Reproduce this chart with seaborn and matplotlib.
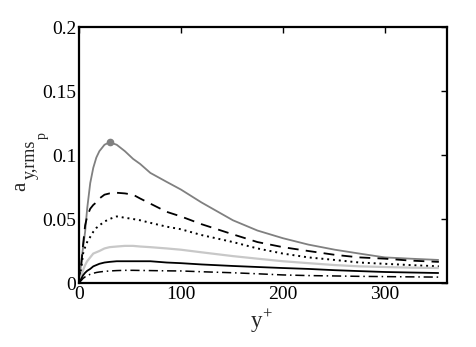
import matplotlib
matplotlib.use("Agg")
import matplotlib.pyplot as plt
import seaborn as sns
import pandas as pd

yplus = [0, 2, 4, 6, 8, 11, 14, 17, 20, 25, 30, 37, 45, 53, 60, 70, 86, 100,
         120, 151, 175, 200, 225, 251, 275, 300, 325, 353]

s_gray = [0, 0.015, 0.028, 0.040, 0.058, 0.078, 0.090, 0.098, 0.103, 0.108, 0.110,
          0.108, 0.103, 0.097, 0.093, 0.086, 0.079, 0.073, 0.063, 0.049, 0.041,
          0.035, 0.030, 0.026, 0.023, 0.020, 0.019, 0.018]
s_dashed = [0, 0.012, 0.030, 0.045, 0.052, 0.058, 0.061, 0.063, 0.066, 0.069, 0.070,
            0.0705, 0.070, 0.069, 0.066, 0.062, 0.0556, 0.052, 0.046, 0.038, 0.032,
            0.028, 0.025, 0.022, 0.020, 0.019, 0.0175, 0.0165]
s_dotted = [0, 0.010, 0.023, 0.028, 0.032, 0.036, 0.040, 0.043, 0.045, 0.048, 0.050,
            0.052, 0.051, 0.050, 0.049, 0.047, 0.044, 0.042, 0.0375, 0.032, 0.027,
            0.023, 0.020, 0.018, 0.016, 0.015, 0.014, 0.013]
s_light = [0, 0.005, 0.010, 0.014, 0.017, 0.020, 0.023, 0.024, 0.025, 0.027, 0.028,
           0.0285, 0.029, 0.029, 0.0285, 0.028, 0.027, 0.026, 0.024, 0.021, 0.019,
           0.017, 0.0155, 0.014, 0.013, 0.0125, 0.012, 0.0117]
s_black = [0, 0.003, 0.006, 0.008, 0.0095, 0.011, 0.013, 0.014, 0.015, 0.016, 0.0165,
           0.017, 0.017, 0.017, 0.017, 0.017, 0.016, 0.0155, 0.0145, 0.0133, 0.0125,
           0.0117, 0.011, 0.010, 0.0093, 0.0086, 0.0082, 0.0078]
s_dashdot = [0, 0.0018, 0.0036, 0.0048, 0.0058, 0.0068, 0.0076, 0.0082, 0.0086, 0.0091,
             0.0094, 0.0097, 0.0099, 0.0099, 0.0098, 0.0097, 0.0095, 0.0094, 0.0088,
             0.0080, 0.0072, 0.0063, 0.0058, 0.0055, 0.0052, 0.0050, 0.0048, 0.0046]

xticks = [0, 100, 200, 300]
yticks = [0, 0.05, 0.1, 0.15, 0.2]
yticklabels = ["0", "0.05", "0.1", "0.15", "0.2"]

sns.set_style("white")
plt.rcParams['font.family'] = ['Liberation Serif', 'DejaVu Serif']

W, H = 476, 347
fig = plt.figure(figsize=(W / 100, H / 100), dpi=100)
ax = fig.add_axes([79 / W, 1 - 283 / H, (447 - 79) / W, (283 - 27) / H])

series = [
    (s_gray, "#808080", (0, ()), 1.3),
    (s_dashed, "black", (0, (6, 4)), 1.3),
    (s_dotted, "black", (0, (1, 2)), 1.4),
    (s_light, "#c8c8c8", (0, ()), 1.6),
    (s_black, "black", (0, ()), 1.3),
    (s_dashdot, "black", (0, (6, 2.5, 1, 2.5)), 1.1),
]
for vals, col, ls, lw in series:
    df = pd.DataFrame({"y": yplus, "v": vals})
    sns.lineplot(data=df, x="y", y="v", ax=ax, color=col, linestyle=ls, linewidth=lw)

pk = s_gray.index(max(s_gray))
ax.plot([yplus[pk]], [s_gray[pk]], "o", color="#808080", markersize=4.5)

ax.set_xlim(0, 361)
ax.set_ylim(0, 0.2)
ax.set_xticks(xticks)
ax.set_yticks(yticks)
ax.set_yticklabels(yticklabels)
ax.tick_params(direction="in", length=4, width=1, top=True, right=True,
               labelsize=14, pad=2, colors="black")
for sp in ax.spines.values():
    sp.set_linewidth(1.6)
    sp.set_color("black")
ax.set_xlabel("")
ax.set_ylabel("")

# x label: y^+
fig.text(256 / W, 1 - 327 / H, "y", fontsize=16.5, ha="center", va="baseline")
fig.text(262.5 / W, 1 - 319 / H, "+", fontsize=12, ha="left", va="baseline")

# y label: a_{y,rms_p}
kw = dict(rotation=90, rotation_mode="anchor", ha="left", va="baseline")
fig.text(25 / W, 1 - 191 / H, "a", fontsize=15, **kw)
fig.text(35 / W, 1 - 179 / H, "y,rms", fontsize=13, **kw)
fig.text(46 / W, 1 - 139 / H, "p", fontsize=10, **kw)

fig.savefig("out.png", dpi=100)
